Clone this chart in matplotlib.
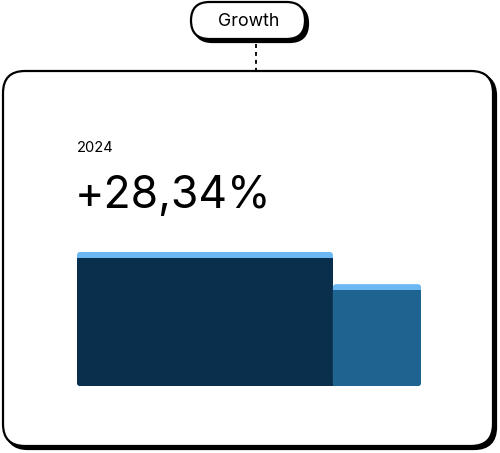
import matplotlib
matplotlib.use("Agg")
import matplotlib.pyplot as plt
from matplotlib.patches import FancyBboxPatch, Rectangle

plt.rcParams["font.family"] = ["Inter", "DejaVu Sans"]

# data
TAG = "Growth"
YEAR = "2024"
VALUE_LABEL = "+28,34%"
categories = ["2023", "2024"]
shares = [74.4, 25.6]      # bar widths (share of total)
heights = [100, 76]        # bar heights
bar_colors = ["#0a2f4c", "#1f6391"]
CAP_COLOR = "#6cb8f2"

W, H = 500, 453
fig = plt.figure(figsize=(W / 100, H / 100), dpi=100)

# background layer in pixel coords
bg = fig.add_axes([0, 0, 1, 1])
bg.set_xlim(0, W)
bg.set_ylim(H, 0)
bg.axis("off")


def card(x0, y0, x1, y1, r, off=3):
    # shadow then white card with black edge
    sh = FancyBboxPatch((x0 + r + off, y0 + r + off), (x1 - x0) - 2 * r, (y1 - y0) - 2 * r,
                        boxstyle=f"round,pad={r}", fc="black", ec="black", lw=1.6)
    bx = FancyBboxPatch((x0 + r, y0 + r), (x1 - x0) - 2 * r, (y1 - y0) - 2 * r,
                        boxstyle=f"round,pad={r}", fc="white", ec="black", lw=1.6)
    bg.add_patch(sh)
    bg.add_patch(bx)


card(3, 71, 493, 446, 22)
card(191, 2, 305, 39, 18.5)
bg.plot([256, 256], [44, 70], color="black", lw=1.3, ls=(0, (2.2, 2.2)))
bg.text(248.5, 21.5, TAG, ha="center", va="center", fontsize=12.8)
bg.text(77, 148, YEAR, ha="left", va="center", fontsize=10.6)
bg.text(75, 196, VALUE_LABEL, ha="left", va="center", fontsize=32)

# bars
ax = fig.add_axes([77 / W, 1 - 386 / H, 344 / W, 134 / H])
lefts = [sum(shares[:i]) for i in range(len(shares))]
ax.set_xlim(0, sum(shares))
ax.set_ylim(0, max(heights))
ax.axis("off")
bars = ax.bar(lefts, heights, width=shares, align="edge", color=CAP_COLOR, lw=0)

# rounded versions drawn in pixel space from the bar geometry
to_px = ax.transData + bg.transData.inverted()
CAP_PX, R = 6, 3
n = len(bars)
for i, (rect, col) in enumerate(zip(bars, bar_colors)):
    (x0, ytop), (x1, ybot) = to_px.transform(
        [(rect.get_x(), rect.get_height()), (rect.get_x() + rect.get_width(), 0)])
    rect.set_visible(False)
    bg.add_patch(FancyBboxPatch((x0 + R, ytop + R), x1 - x0 - 2 * R, ybot - ytop - 2 * R,
                                boxstyle=f"round,pad={R}", fc=CAP_COLOR, lw=0))
    bg.add_patch(FancyBboxPatch((x0 + R, ytop + CAP_PX + R), x1 - x0 - 2 * R,
                                ybot - ytop - CAP_PX - 2 * R,
                                boxstyle=f"round,pad={R}", fc=col, lw=0))
    bg.add_patch(Rectangle((x0, ytop + CAP_PX), x1 - x0, 2 * R, fc=col, lw=0))
    # square off the sides where bars meet
    if i > 0:
        bg.add_patch(Rectangle((x0, ytop + CAP_PX), 2 * R, ybot - ytop - CAP_PX, fc=col, lw=0))
    if i < n - 1:
        bg.add_patch(Rectangle((x1 - 2 * R, ytop + CAP_PX), 2 * R, ybot - ytop - CAP_PX,
                               fc=col, lw=0))

fig.savefig("out.png", dpi=100)
